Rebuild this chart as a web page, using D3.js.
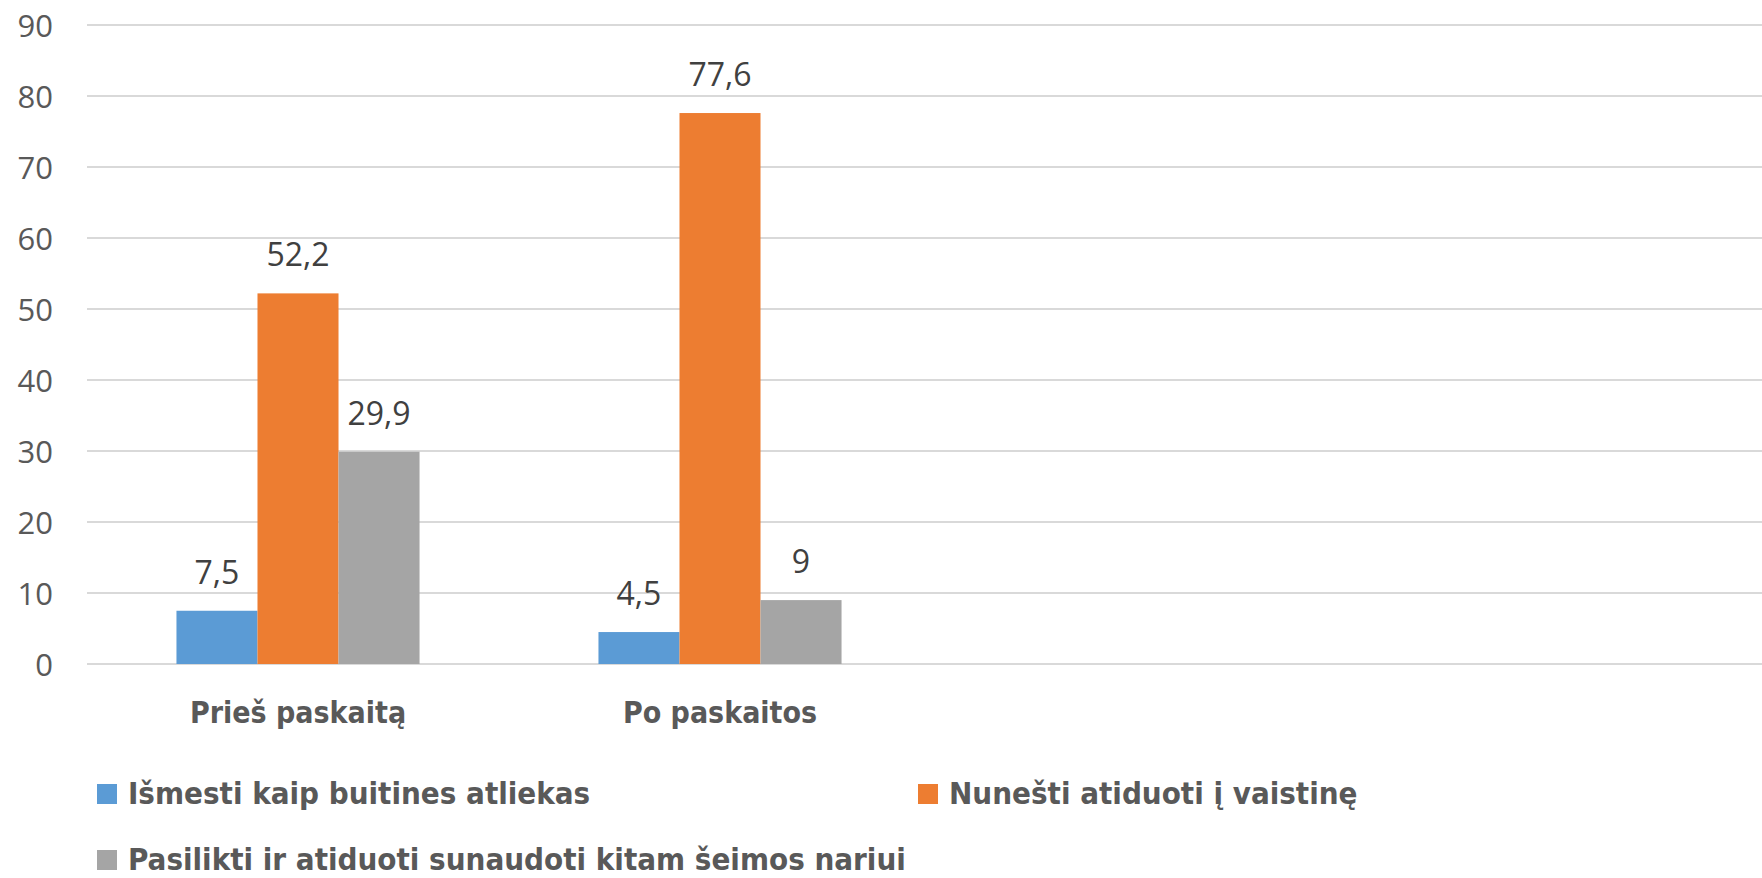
<!DOCTYPE html>
<html>
<head>
<meta charset="utf-8">
<script src="https://cdn.jsdelivr.net/npm/d3@7"></script>
<style>
  body { margin: 0; background: #fff; }
  svg { display: block; }
</style>
</head>
<body>
<div id="chart"></div>
<script>
// data
const categories = ["Prieš paskaitą", "Po paskaitos"];
const seriesNames = [
  "Išmesti kaip buitines atliekas",
  "Nunešti atiduoti į vaistinę",
  "Pasilikti ir atiduoti sunaudoti kitam šeimos nariui"
];
const seriesColors = ["#5b9bd5", "#ed7d31", "#a5a5a5"];
const thrownOut = [7.5, 4.5];
const toPharmacy = [52.2, 77.6];
const keptForFamily = [29.9, 9];
const yTicks = [0, 10, 20, 30, 40, 50, 60, 70, 80, 90];

const seriesValues = [thrownOut, toPharmacy, keptForFamily];

function barchart() {
    // draws the grouped bars, grid and legend
    let width = 1762, height = 878;
    let plot = {left: 87, right: 1762, top: 25, bottom: 664};

    let svg = d3.select("#chart").append("svg")
        .attr("width", width)
        .attr("height", height);

    let y = d3.scaleLinear()
        .domain([0, 90])
        .range([plot.bottom, plot.top]);

    // the two filled categories sit in the left half of the plot
    let x0 = d3.scaleBand()
        .domain(categories)
        .range([plot.left, 931])
        .paddingInner(0.424)
        .paddingOuter(0.212);

    let x1 = d3.scaleBand()
        .domain(seriesNames)
        .range([0, x0.bandwidth()]);

    // gridlines
    svg.append("g")
        .selectAll("line")
        .data(yTicks)
        .enter().append("line")
        .attr("x1", plot.left)
        .attr("x2", plot.right)
        .attr("y1", d => y(d))
        .attr("y2", d => y(d))
        .attr("stroke", "#d9d9d9")
        .attr("stroke-width", 2);

    // y axis labels
    let yAxis = d3.axisLeft(y).tickValues(yTicks).tickSize(0).tickPadding(0);
    let yg = svg.append("g")
        .attr("transform", "translate(53,0)")
        .call(yAxis);
    yg.select(".domain").remove();
    yg.selectAll("text")
        .attr("dy", "0.36em")
        .style("font-family", "'Open Sans', sans-serif")
        .style("font-size", "31px")
        .style("fill", "#595959");

    // bars
    let rows = [];
    categories.forEach(function(c, i) {
        seriesNames.forEach(function(s, j) {
            rows.push({cat: c, series: s, value: seriesValues[j][i], color: seriesColors[j]});
        });
    });

    let bars = svg.selectAll(".bar")
        .data(rows)
        .enter().append("g")
        .attr("class", "bar")
        .attr("transform", d => "translate(" + (x0(d.cat) + x1(d.series)) + ",0)");

    bars.append("rect")
        .attr("y", d => y(d.value))
        .attr("width", x1.bandwidth())
        .attr("height", d => y(0) - y(d.value))
        .style("fill", d => d.color);

    bars.append("text")
        .attr("x", x1.bandwidth() / 2)
        .attr("y", d => y(d.value) - 27)
        .style("text-anchor", "middle")
        .style("font-family", "'Open Sans', sans-serif")
        .style("font-size", "32px")
        .style("fill", "#404040")
        .text(d => String(d.value).replace(".", ","));

    // category labels
    svg.append("g")
        .selectAll("text")
        .data(categories)
        .enter().append("text")
        .attr("x", d => x0(d) + x0.bandwidth() / 2)
        .attr("y", 723)
        .style("text-anchor", "middle")
        .style("font-family", "'Liberation Sans Narrow', 'DejaVu Sans Condensed', 'Open Sans', sans-serif")
        .style("font-weight", "bold")
        .style("font-size", "30px")
        .style("fill", "#595959")
        .text(d => d);

    // legend, two items per row
    let legend = svg.append("g")
        .selectAll("g")
        .data(seriesNames)
        .enter().append("g")
        .attr("transform", (d, i) => "translate(" + (97 + (i % 2) * 821) + "," + (784 + Math.floor(i / 2) * 66) + ")");

    legend.append("rect")
        .attr("width", 20)
        .attr("height", 20)
        .style("fill", (d, i) => seriesColors[i]);

    legend.append("text")
        .attr("x", 31)
        .attr("y", 20)
        .style("font-family", "'Liberation Sans Narrow', 'DejaVu Sans Condensed', 'Open Sans', sans-serif")
        .style("font-weight", "bold")
        .style("font-size", "31px")
        .style("fill", "#595959")
        .text(d => d);
}

barchart();
</script>
</body>
</html>
